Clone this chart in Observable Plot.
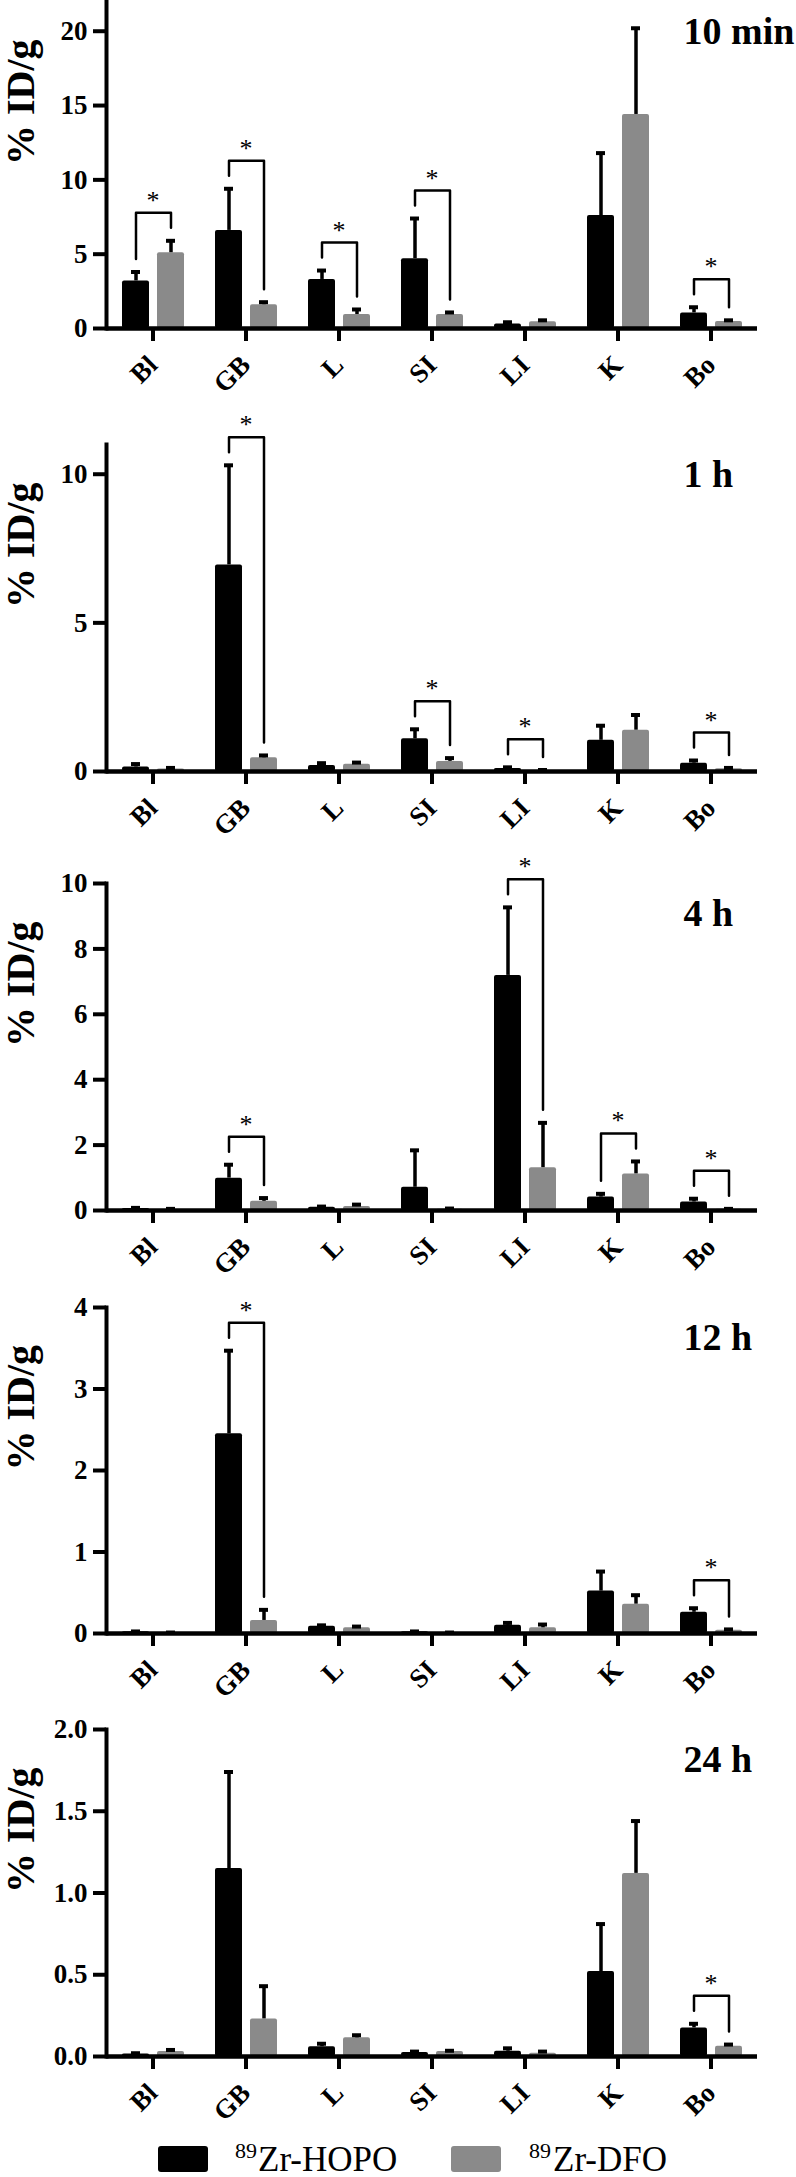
<!DOCTYPE html>
<html>
<head>
<meta charset="utf-8">
<script src="https://cdn.jsdelivr.net/npm/d3@7"></script>
<script src="https://cdn.jsdelivr.net/npm/@observablehq/plot@0.6"></script>
<style>
  html, body { margin: 0; padding: 0; background: #fff; }
  body { width: 796px; font-family: "Liberation Serif", "Times New Roman", Times, serif; }
  #chart svg { display: block; }
  #chart svg, #chart svg text { font-family: "Liberation Serif", "Times New Roman", Times, serif !important; }
  #legend { position: relative; width: 796px; height: 37px; }
  .sw { position: absolute; width: 50px; height: 26px; border-radius: 3px; }
  .lt { position: absolute; line-height: 1; white-space: nowrap; color: #000; font-family: "Liberation Serif", "Times New Roman", Times, serif; }
</style>
</head>
<body>
<div id="chart"></div>
<div id="legend">
  <div class="sw" style="left:158px; top:6px; background:#000000;"></div>
  <div class="lt" style="left:235px; top:0px; font-size:22px;">89</div>
  <div class="lt" style="left:258px; top:2px; font-size:35px;">Zr-HOPO</div>
  <div class="sw" style="left:451px; top:6px; background:#8a8a8a;"></div>
  <div class="lt" style="left:529px; top:0px; font-size:22px;">89</div>
  <div class="lt" style="left:553px; top:2px; font-size:35px;">Zr-DFO</div>
</div>
<script>
// ---- data ----
const organs = ["Bl", "GB", "L", "SI", "LI", "K", "Bo"];
const compounds = ["HOPO", "DFO"];
const timeLabels = ["10 min", "1 h", "4 h", "12 h", "24 h"];
const yMax = [22, 11, 10, 4, 2];
const yTicks = [[0, 5, 10, 15, 20], [0, 5, 10], [0, 2, 4, 6, 8, 10], [0, 1, 2, 3, 4], [0, 0.5, 1.0, 1.5, 2.0]];
const yTickDecimals = [0, 0, 0, 0, 1];

// mean %ID/g, 89Zr-HOPO, per time point, per organ
const hopoMean = [
  [3.2, 6.6, 3.3, 4.7, 0.3, 7.6, 1.05],
  [0.15, 6.95, 0.2, 1.1, 0.1, 1.05, 0.28],
  [0.06, 0.99, 0.1, 0.71, 7.19, 0.41, 0.26],
  [0.02, 2.45, 0.09, 0.02, 0.1, 0.52, 0.26],
  [0.015, 1.15, 0.06, 0.025, 0.032, 0.52, 0.175]
];
const hopoSD = [
  [0.6, 2.8, 0.6, 2.7, 0.12, 4.2, 0.38],
  [0.1, 3.35, 0.08, 0.32, 0.04, 0.49, 0.09],
  [0.02, 0.41, 0.02, 1.13, 2.08, 0.1, 0.1],
  [0.005, 1.02, 0.01, 0.005, 0.03, 0.24, 0.05],
  [0.005, 0.59, 0.018, 0.005, 0.018, 0.29, 0.025]
];
// mean %ID/g, 89Zr-DFO
const dfoMean = [
  [5.1, 1.6, 0.94, 0.94, 0.45, 14.4, 0.47],
  [0.08, 0.46, 0.24, 0.34, 0.03, 1.39, 0.09],
  [0.03, 0.28, 0.12, 0.04, 1.31, 1.12, 0.04],
  [0.01, 0.16, 0.07, 0.01, 0.07, 0.36, 0.04],
  [0.03, 0.23, 0.114, 0.03, 0.02, 1.12, 0.063]
];
const dfoSD = [
  [0.8, 0.17, 0.34, 0.14, 0.1, 5.8, 0.08],
  [0.04, 0.08, 0.06, 0.11, 0.02, 0.51, 0.03],
  [0.02, 0.1, 0.06, 0.02, 1.37, 0.38, 0.01],
  [0.002, 0.13, 0.015, 0.002, 0.04, 0.11, 0.01],
  [0.01, 0.2, 0.016, 0.005, 0.01, 0.32, 0.01]
];
// organs with a significant difference (*)
const sigOrgans = [
  ["Bl", "GB", "L", "SI", "Bo"],
  ["GB", "SI", "LI", "Bo"],
  ["GB", "LI", "K", "Bo"],
  ["GB", "Bo"],
  ["Bo"]
];

// ---- layout ----
const marginTops = [1, 40, 25, 15, 25];
const plotAreas = [327, 327, 327, 326, 327];
const marginBottoms = [76, 87, 82, 71, 84];
const FONT = '"Liberation Serif", "Times New Roman", Times, serif';

const container = document.getElementById("chart");

for (let i = 0; i < 5; i++) {
  const rows = organs.flatMap((o, j) => [
    {organ: o, comp: "HOPO", mean: hopoMean[i][j], sd: hopoSD[i][j]},
    {organ: o, comp: "DFO", mean: dfoMean[i][j], sd: dfoSD[i][j]}
  ]);
  const k = yMax[i] / plotAreas[i]; // value units per pixel
  const get = (o, c) => rows.find(r => r.organ === o && r.comp === c);
  const brackets = sigOrgans[i].map(o => {
    const h = get(o, "HOPO"), d = get(o, "DFO");
    const l = h.mean + h.sd + 13 * k;
    const r = d.mean + d.sd + 13 * k;
    return {organ: o, l, r, top: Math.max(l, r) + 15 * k};
  });
  const pts = brackets.flatMap(b => [
    {organ: b.organ, comp: "HOPO", y: b.l},
    {organ: b.organ, comp: "HOPO", y: b.top},
    {organ: b.organ, comp: "DFO", y: b.top},
    {organ: b.organ, comp: "DFO", y: b.r}
  ]);
  const fmt = d3.format("." + yTickDecimals[i] + "f");

  const chart = Plot.plot({
    width: 796,
    height: marginTops[i] + plotAreas[i] + marginBottoms[i],
    marginTop: marginTops[i],
    marginBottom: marginBottoms[i],
    marginLeft: 106,
    marginRight: 39,
    style: {fontFamily: FONT, background: "white", overflow: "visible"},
    fx: {domain: organs, padding: 0, label: null},
    x: {domain: compounds, paddingInner: 0.229, paddingOuter: 0.443, axis: null},
    y: {domain: [0, yMax[i]], axis: null},
    color: {domain: compounds, range: ["#000000", "#8a8a8a"]},
    marks: [
      Plot.barY(rows, {fx: "organ", x: "comp", y: "mean", fill: "comp", rx: 2}),
      Plot.ruleX(rows, {fx: "organ", x: "comp", y1: "mean", y2: d => d.mean + d.sd, stroke: "black", strokeWidth: 3.5}),
      Plot.tickY(rows, {fx: "organ", x: "comp", y: d => d.mean + d.sd, insetLeft: 9, insetRight: 9, stroke: "black", strokeWidth: 4}),
      Plot.line(pts, {fx: "organ", x: "comp", y: "y", z: "organ", stroke: "black", strokeWidth: 2.5}),
      Plot.text(brackets, {fx: "organ", y: "top", text: () => "*", lineAnchor: "bottom", dy: -4, fontSize: 26, fontFamily: FONT, fill: "black"}),
      Plot.ruleY([0], {stroke: "black", strokeWidth: 4.5}),
      Plot.frame({anchor: "left", facetAnchor: "left", stroke: "black", strokeWidth: 4}),
      Plot.axisY({ticks: yTicks[i], tickFormat: fmt, tickSize: 13, tickPadding: 6, fontSize: 27, fontFamily: FONT, fontWeight: "bold", strokeWidth: 4, label: null, fill: "black", stroke: "black"}),
      Plot.axisFx({anchor: "bottom", tickSize: 13, tickPadding: 19, tickRotate: -45, fontSize: 27, fontFamily: FONT, fontWeight: "bold", strokeWidth: 4, label: null, fill: "black", stroke: "black"}),
      Plot.text([{organ: "Bo"}], {fx: "organ", text: () => timeLabels[i], frameAnchor: "top-left", textAnchor: "start", lineAnchor: "bottom", dx: 19, dy: 42, fontSize: 38, fontFamily: FONT, fontWeight: "bold", fill: "black"}),
      Plot.text([{organ: "Bl"}], {fx: "organ", text: () => "% ID/g", frameAnchor: "left", rotate: -90, dx: -85, fontSize: 40, fontFamily: FONT, fontWeight: "bold", fill: "black"})
    ]
  });
  container.appendChild(chart);
}
</script>
</body>
</html>
